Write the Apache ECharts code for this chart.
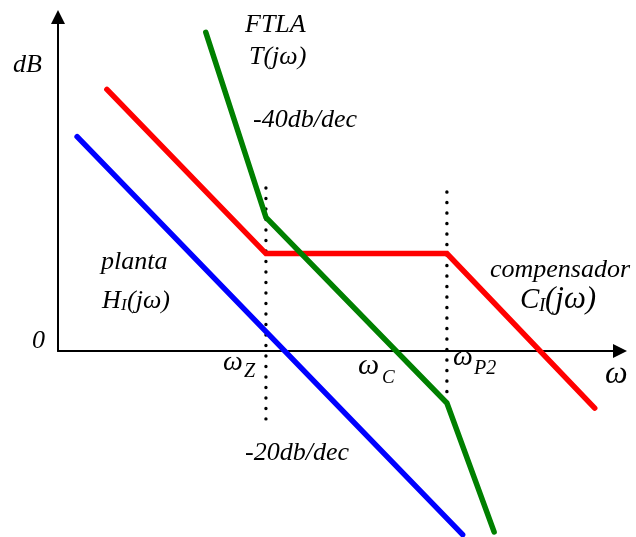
<!DOCTYPE html>
<html>
<head>
<meta charset="utf-8">
<script src="https://cdn.jsdelivr.net/npm/echarts@6/dist/echarts.min.js"></script>
<style>
  html, body { margin: 0; padding: 0; background: #ffffff; }
  #chart { width: 636px; height: 537px; }
</style>
</head>
<body>
<div id="chart"></div>
<script>
// Asymptotic Bode magnitude sketch: x in decades of ω, y in dB
const wZ = 3.7;    // compensator zero
const wP2 = 6.92;  // compensator second pole

const planta = [[0.34, 77], [7.2, -66]];
const compensador = [[0.87, 94], [wZ, 35], [wP2, 35], [9.55, -20.5]];
const ftla = [[2.63, 114.5], [wZ, 48], [wP2, -18.7], [7.76, -65]];
const markZ = [[wZ, 58.6], [wZ, -24.4]];
const markP2 = [[wP2, 57.1], [wP2, -21.9]];

const serif = '"Liberation Serif", "Times New Roman", serif';

function txt(str, x, y, size) {
  return {
    type: 'text', x: x, y: y, silent: true,
    style: {
      text: str, fill: '#000000',
      font: 'italic ' + (size || 26) + 'px ' + serif,
      align: 'left', verticalAlign: 'middle'
    }
  };
}

function curve(data, color) {
  return {
    type: 'line', data: data, symbol: 'none', clip: false, silent: true,
    lineStyle: { color: color, width: 5.5, cap: 'round', join: 'miter' }
  };
}

function dotted(data) {
  return {
    type: 'line', data: data, symbol: 'none', clip: false, silent: true,
    lineStyle: { color: '#000000', width: 3.4, type: [0.1, 10.4], cap: 'round' }
  };
}

const axisStyle = {
  show: true, onZero: false,
  symbol: ['none', 'triangle'], symbolSize: [14, 14],
  lineStyle: { color: '#000000', width: 2 }
};

const chart = echarts.init(document.getElementById('chart'), null, { renderer: 'canvas' });
chart.setOption({
  backgroundColor: '#ffffff',
  animation: false,
  grid: { left: 58, right: 16, top: 17, bottom: 186 },
  xAxis: {
    type: 'value', min: 0, max: 10,
    axisLine: axisStyle,
    axisTick: { show: false }, axisLabel: { show: false }, splitLine: { show: false }
  },
  yAxis: {
    type: 'value', min: 0, max: 120,
    axisLine: axisStyle,
    axisTick: { show: false }, axisLabel: { show: false }, splitLine: { show: false }
  },
  series: [
    dotted(markZ),
    dotted(markP2),
    curve(planta, '#0000ff'),
    curve(compensador, '#ff0000'),
    curve(ftla, '#008000')
  ],
  graphic: [
    txt('dB', 13, 65),
    txt('0', 32, 341),
    txt('ω', 605, 375, 32),
    txt('FTLA', 245, 25),
    txt('T(jω)', 249, 57),
    txt('-40db/dec', 253, 120),
    txt('planta', 101, 262),
    txt('H', 102, 301),
    txt('I', 121, 306, 17),
    txt('(jω)', 127, 301),
    txt('compensador', 490, 270),
    txt('C', 520, 300, 29),
    txt('I', 539, 306, 19),
    txt('(jω)', 545, 300, 31),
    txt('ω', 223, 363, 28),
    txt('Z', 244, 372, 20),
    txt('ω', 358, 366, 30),
    txt('C', 382, 378, 19),
    txt('ω', 453, 358, 28),
    txt('P2', 474, 369, 20),
    txt('-20db/dec', 245, 453)
  ]
});
</script>
</body>
</html>
